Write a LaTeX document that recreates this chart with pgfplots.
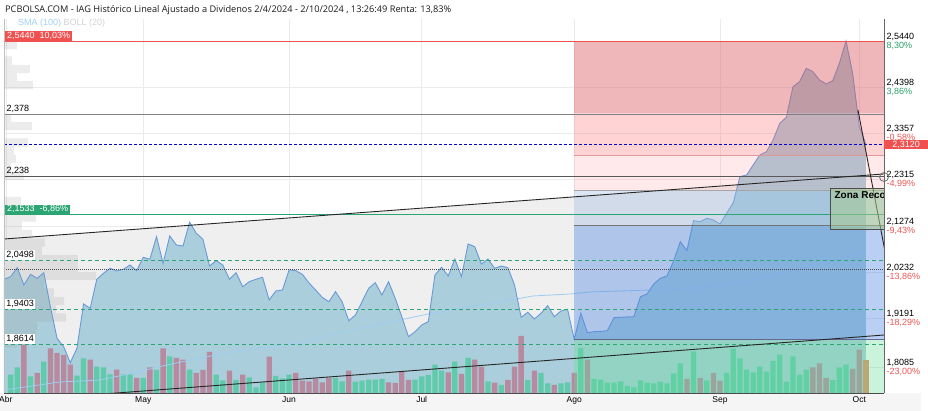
\documentclass[border=0pt]{standalone}
\usepackage{fontspec}
\setmainfont{Liberation Sans}
\newfontfamily\titlefont{Open Sans}
\usepackage{pgfplots}
\pgfplotsset{compat=1.18}
\usepackage{pgfplotstable}

\definecolor{pfill}{HTML}{AACEDB}
\definecolor{pline}{HTML}{6A9AD6}
\definecolor{chan}{HTML}{EFEFEF}
\definecolor{vgreen}{HTML}{5FCBAA}
\definecolor{vred}{HTML}{B78AA0}
\definecolor{vorange}{HTML}{E68C64}
\definecolor{fibred}{HTML}{D9595F}
\definecolor{fibpink}{HTML}{FF6B70}
\definecolor{fibblue1}{HTML}{9DB8E0}
\definecolor{fibblue}{HTML}{4F86E0}
\definecolor{fibgreen}{HTML}{66DD99}
\definecolor{smac}{HTML}{9FCDF2}
\definecolor{lvlred}{HTML}{F05050}
\definecolor{lvlgreen}{HTML}{2BA573}
\definecolor{posg}{HTML}{2AA06A}
\definecolor{negr}{HTML}{F05454}
\definecolor{zona}{HTML}{A8C890}

\newcommand{\lbl}{\fontsize{9}{9}\selectfont}

% cierre diario (indice de sesion desde 2/4/2024)
\pgfplotstableread{
i v
0 2.0073
1 2.0131
2 2.0334
3 1.9945
4 2.0185
5 2.0095
6 2.0222
7 1.9456
8 1.8744
9 1.8555
10 1.8195
11 1.8519
12 1.9517
13 1.9420
14 2.0073
15 2.0208
16 2.0321
17 2.0260
18 2.0298
19 2.0395
20 2.0267
21 2.0568
22 2.0523
23 2.1032
24 2.0433
25 2.1048
26 2.0845
27 2.0823
28 2.1357
29 2.1109
30 2.0974
31 2.0372
32 2.0492
33 2.0395
34 2.0073
35 2.0222
36 1.9906
37 2.0019
38 2.0073
39 2.0118
40 1.9607
41 1.9809
42 1.9832
43 2.0282
44 2.0267
45 2.0185
46 1.9990
47 1.9832
48 1.9667
49 1.9568
50 1.9794
51 1.9568
52 1.9140
53 1.9269
54 1.9568
55 1.9870
56 1.9996
57 1.9719
58 2.0019
59 1.9645
60 1.9231
61 1.8780
62 1.8893
63 1.9044
64 1.9118
65 2.0170
66 2.0343
67 2.0147
68 2.0530
69 2.0131
70 2.0868
71 2.0807
72 2.0417
73 2.0530
74 2.0320
75 2.0372
76 2.0334
77 1.9945
78 1.9217
79 1.9330
80 1.9179
81 1.9307
82 1.9478
83 1.9231
84 1.9359
85 1.9397
86 1.8722
87 1.9307
88 1.8870
89 1.8893
90 1.8900
91 1.8915
92 1.9208
93 1.9217
94 1.9225
95 1.9231
96 1.9681
97 1.9742
98 1.9967
99 2.0095
100 2.0147
101 2.0485
102 2.0920
103 2.0717
104 2.1393
105 2.1370
106 2.1447
107 2.1408
108 2.1318
109 2.1559
110 2.1798
111 2.2384
112 2.2422
113 2.2647
114 2.2872
115 2.2947
116 2.3210
117 2.3586
118 2.3722
119 2.4411
120 2.4523
121 2.4825
122 2.4749
123 2.4562
124 2.4472
125 2.4546
126 2.4938
127 2.5440
128 2.4713
129 2.3510
130 2.3120
}\price

% SMA(100)
\pgfplotstableread{
i v
0 1.758
8.45 1.776
14.5 1.7805
19.5 1.7963
24.6 1.8143
29.6 1.830
34.5 1.8435
39.7 1.8548
44.6 1.8638
49.6 1.8841
54.75 1.8999
59.7 1.9156
64.7 1.9314
69.8 1.9449
74.8 1.9562
79.8 1.9697
85.4 1.9742
88.4 1.9787
102 1.9854
108 1.9922
110.6 2.0012
115.5 2.0147
120.5 2.0327
125.6 2.0508
129.6 2.0688
}\sma

% volumen (altura relativa)
\pgfplotstableread{
i h
1 18.3
2 25.7
4 16.7
6 31.3
11 17.3
12 34.7
14 26.3
15 25.7
16 18.7
18 18.7
19 18.7
21 15
23 23
25 36.7
28 23.3
32 18.3
33 12.7
35 13
37 15.7
38 5.7
39 10.7
41 17
42 14.7
43 18.3
50 15
51 11.7
53 11.3
54 12.3
55 13.3
56 13.3
57 14
62 13.3
63 16.7
64 18
65 28.3
66 22.3
68 31.3
70 35
73 11.7
75 8
79 13
81 20
82 9.7
84 9.7
85 10.7
87 45
89 14
90 13.3
91 10.3
92 10.3
93 11.7
94 7
95 5.7
96 12.7
97 10.3
98 9.7
99 11.3
100 9.7
101 19.7
102 29.7
104 41.7
106 12.7
109 20
110 44.3
111 34.7
112 23.3
113 20.7
114 26.3
115 21.3
116 32
117 38.3
118 11.3
119 36.7
120 18
121 23.3
125 13
126 25.7
127 28.3
}\volG

\pgfplotstableread{
i h
3 48.3
5 20
7 44.7
8 40
9 38
10 28.3
13 33.3
17 23.3
20 15
22 25.7
24 44.7
26 35
27 33.3
29 20
30 23
31 41
34 22.3
36 18.3
40 36.3
44 20
45 12.3
46 11.7
47 14.3
48 10.7
49 15
52 22.3
58 10.7
59 10
60 21.3
61 13
67 20.7
69 19
71 33.3
72 26.3
74 10.3
76 13
77 26.3
78 57
80 22.3
83 8
86 20
88 33.3
103 14
105 15
107 20
108 12.3
122 25.7
123 29.7
124 15
128 24
129 43.3
}\volR

\pgfplotstableread{
i h
130 33.3
}\volO

% perfil de volumen por precio
\pgfplotstableread{
L v
1.96 2.535
1.2 2.5001
3.92 2.4809
1.96 2.4629
4.37 2.4449
1.06 2.3695
4.22 2.3526
3.62 2.3154
1.51 2.2962
1.81 2.2782
1.06 2.2591
3.02 2.2399
2.56 2.1837
4.83 2.1465
2.71 2.1274
4.22 2.1093
6.18 2.0902
5.73 2.0710
11.16 2.0530
11.16 2.0339
13.88 2.0147
6.03 1.9967
7.54 1.9776
9.05 1.9584
7.84 1.9404
9.35 1.9213
4.98 1.9021
4.83 1.8841
1.96 1.8638
}\perfil

\begin{document}
\begin{tikzpicture}
\useasboundingbox (0,0) rectangle (928pt,411pt);
\fill[black!4] (0,0) rectangle (921pt,18pt);

\begin{axis}[
    at={(4pt,18pt)}, anchor=south west,
    scale only axis, width=880pt, height=374pt,
    xmin=0, xmax=132.73, ymin=1.7512, ymax=2.5935,
    enlargelimits=false,
    axis line style={draw=none},
    tick style={draw=none},
    xtick={0.27,21,43,63,86,108,129},
    xticklabels={Abr,May,Jun,Jul,Ago,Sep,Oct},
    xticklabel style={font=\fontsize{8.5}{9}\selectfont},
    ytick={1.8085,1.9191,2.0232,2.1274,2.2315,2.3357,2.4398,2.5440},
    yticklabels={
      {1,8085\\\textcolor{negr}{-23,00\%}},
      {1,9191\\\textcolor{negr}{-18,29\%}},
      {2,0232\\\textcolor{negr}{-13,86\%}},
      {2,1274\\\textcolor{negr}{-9,43\%}},
      {2,2315\\\textcolor{negr}{-4,99\%}},
      {2,3357\\\textcolor{negr}{-0,58\%}},
      {2,4398\\\textcolor{posg}{3,86\%}},
      {2,5440\\\textcolor{posg}{8,30\%}}},
    yticklabel pos=right,
    yticklabel style={font=\lbl, align=left, anchor=west, inner xsep=2.5pt},
    xmajorgrids, ymajorgrids,
    grid style={draw=black!8, line width=0.5pt},
]
% canal gris
\addplot[fill=chan, draw=none] coordinates {(0,2.098) (130,2.2415) (130,1.8787) (0,1.732)} -- cycle;
% area de precio
\addplot[fill=pfill, draw=none] table[x=i,y=v]{\price} \closedcycle;
% perfil de volumen
\addplot[xbar, bar width=8.2pt, bar shift=0pt, fill=black!38, fill opacity=0.2, draw=none] table[x=L,y=v]{\perfil};
% volumen
\addplot[ybar, bar width=5.3pt, bar shift=0pt, fill=vgreen, draw=none] table[x=i, y expr=1.7512+\thisrow{h}/444]{\volG};
\addplot[ybar, bar width=5.3pt, bar shift=0pt, fill=vred, draw=none] table[x=i, y expr=1.7512+\thisrow{h}/444]{\volR};
\addplot[ybar, bar width=5.3pt, bar shift=0pt, fill=vorange, draw=none] table[x=i, y expr=1.7512+\thisrow{h}/444]{\volO};
% SMA
\addplot[smac, line width=0.8pt] table[x=i,y=v]{\sma};
% linea de precio
\addplot[pline, line width=0.9pt] table[x=i,y=v]{\price};

% retrocesos de Fibonacci
\addplot[fill=fibred, fill opacity=0.43, draw=none] coordinates {(85.9,2.544) (134,2.544) (134,2.381) (85.9,2.381)} -- cycle;
\addplot[fill=fibpink, fill opacity=0.30, draw=none] coordinates {(85.9,2.381) (134,2.381) (134,2.2873) (85.9,2.2873)} -- cycle;
\addplot[fill=fibpink, fill opacity=0.15, draw=none] coordinates {(85.9,2.2873) (134,2.2873) (134,2.208) (85.9,2.208)} -- cycle;
\addplot[fill=fibblue1, fill opacity=0.35, draw=none] coordinates {(85.9,2.208) (134,2.208) (134,2.1287) (85.9,2.1287)} -- cycle;
\addplot[fill=fibblue, fill opacity=0.40, draw=none] coordinates {(85.9,2.1287) (134,2.1287) (134,1.872) (85.9,1.872)} -- cycle;
\addplot[fill=fibgreen, fill opacity=0.35, draw=none] coordinates {(85.9,1.872) (134,1.872) (134,1.70) (85.9,1.70)} -- cycle;
\addplot[color=black!35!red!40, line width=0.8pt] coordinates {(85.9,2.2873) (134,2.2873)};
\addplot[color=black!35, line width=1.2pt] coordinates {(85.9,2.208) (134,2.208)};
\addplot[color=black!55, line width=0.8pt] coordinates {(85.9,2.1287) (134,2.1287)};
\addplot[color=black!70!blue!60, line width=1.2pt] coordinates {(85.9,1.872) (134,1.872)};

% niveles horizontales
\addplot[lvlred, line width=0.8pt] coordinates {(0,2.544) (134,2.544)};
\addplot[black!50, line width=1.3pt] coordinates {(0,2.378) (134,2.378)};
\addplot[blue!85!black, line width=0.6pt, dash pattern=on 3pt off 2pt] coordinates {(0,2.312) (134,2.312)};
\addplot[black!65, line width=0.9pt] coordinates {(0,2.238) (134,2.238)};
\addplot[lvlgreen, line width=0.8pt] coordinates {(0,2.1533) (134,2.1533)};
\addplot[lvlgreen, line width=0.7pt, dash pattern=on 4pt off 3pt] coordinates {(0,2.0498) (134,2.0498)};
\addplot[black!70, line width=0.6pt, dash pattern=on 1pt off 1pt] coordinates {(0,2.030) (134,2.030)};
\addplot[lvlgreen, line width=0.7pt, dash pattern=on 4pt off 3pt] coordinates {(0,1.9403) (134,1.9403)};
\addplot[lvlgreen, line width=0.7pt, dash pattern=on 4pt off 3pt] coordinates {(0,1.8614) (134,1.8614)};

% lineas de tendencia
\addplot[black!85, line width=0.9pt] coordinates {(0,2.098) (132.73,2.2445)};
\addplot[black!85, line width=0.9pt] coordinates {(0,1.732) (132.73,1.8818)};
\addplot[black!85, line width=0.9pt] coordinates {(128.8,2.3886) (132.9,2.0688)};
\addplot[only marks, mark=o, mark size=4.5pt, mark options={draw=black!55, line width=0.8pt}] coordinates {(132.73,2.2377)};

% zona de recompra
\addplot[fill=zona, fill opacity=0.55, draw=black!70, line width=0.7pt] coordinates {(124.7,2.2129) (136,2.2129) (136,2.1206) (124.7,2.1206)} -- cycle;
\node[anchor=west, inner sep=0pt, font=\bfseries\fontsize{10}{11}\selectfont] at (axis cs:125.25,2.195) {Zona Recompra};

% etiquetas
\node[anchor=west, inner sep=0pt, font=\lbl] at (axis cs:2.1,2.5845) {\textcolor{smac}{SMA (100)} \textcolor{black!18}{BOLL (20)}};
\node[anchor=south west, fill=lvlred, text=white, inner xsep=2pt, inner ysep=1pt, font=\lbl] at (axis cs:0.15,2.5445) {2,5440\ \ 10,03\%};
\node[anchor=south west, fill=lvlgreen, text=white, inner xsep=2pt, inner ysep=1pt, font=\lbl] at (axis cs:0.15,2.1538) {2,1533\ \ -6,86\%};
\node[anchor=south west, inner sep=1pt, font=\lbl] at (axis cs:0.2,2.3795) {2,378};
\node[anchor=south west, inner sep=1pt, font=\lbl] at (axis cs:0.2,2.2395) {2,238};
\node[anchor=south west, fill=white, inner sep=1.2pt, font=\lbl] at (axis cs:0.15,2.0505) {2,0498};
\node[anchor=south west, fill=white, inner sep=1.2pt, font=\lbl] at (axis cs:0.15,1.941) {1,9403};
\node[anchor=south west, fill=white, inner sep=1.2pt, font=\lbl] at (axis cs:0.15,1.8621) {1,8614};
\coordinate (c2312) at (axis cs:132.73,2.312);
\end{axis}

\draw[black!25, line width=0.6pt] (4pt,18pt) -- (4pt,392pt);
\draw[black!70, line width=0.8pt] (4pt,18pt) -- (884pt,18pt);
\draw[black!60, line width=0.8pt] (884pt,18pt) -- (884pt,392pt);
\node[anchor=west, fill=lvlred, text=white, inner xsep=2.5pt, inner ysep=1pt, font=\lbl, minimum width=44pt] at ([yshift=-0.5pt]c2312) {2,3120};
\node[anchor=west, inner sep=0pt, font=\titlefont\fontsize{9.2}{11}\selectfont, text=black!90] at (5pt,401pt) {PCBOLSA.COM - IAG Histórico Lineal Ajustado a Dividenos 2/4/2024 - 2/10/2024 , 13:26:49 Renta: 13,83\%};
\end{tikzpicture}
\end{document}
